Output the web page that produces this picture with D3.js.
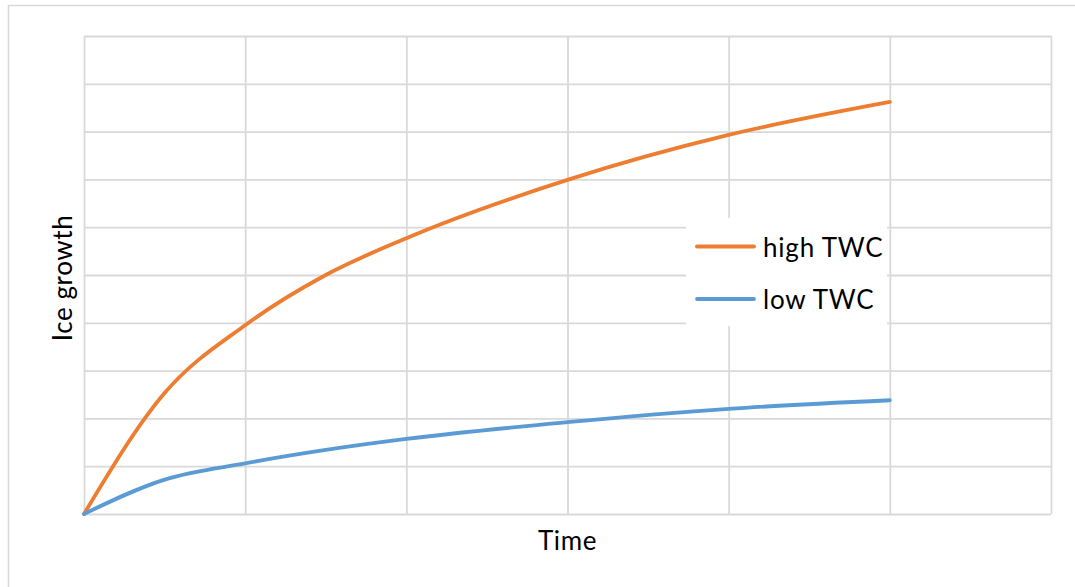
<!DOCTYPE html>
<html>
<head>
<meta charset="utf-8">
<script src="https://cdn.jsdelivr.net/npm/d3@7"></script>
<style>
  html, body { margin: 0; padding: 0; background: #ffffff; }
  svg { display: block; }
  text { font-family: Lato, "Open Sans", sans-serif; fill: #000; }
</style>
</head>
<body>
<svg id="chart" width="1075" height="587"></svg>
<script>
// ---- data ----
const seriesNames = ["high TWC", "low TWC"];
const timeValues = [0, 0.5, 1, 1.5, 2, 3, 4, 5];
const highTWC = [0, 2.53, 3.95, 5.0, 5.77, 6.99, 7.93, 8.62];
const lowTWC  = [0, 0.72, 1.06, 1.34, 1.57, 1.92, 2.2, 2.38];
const xTicks = [0, 1, 2, 3, 4, 5, 6];
const yTicks = [0, 1, 2, 3, 4, 5, 6, 7, 8, 9, 10];
const seriesColors = ["#ed7d31", "#5b9bd5"];

const svg = d3.select("#chart");
const W = 1075, H = 587;
const plot = { left: 84, right: 1051, top: 36, bottom: 514 };

// outer chart border
svg.append("rect")
  .attr("x", 8.5).attr("y", 5.5)
  .attr("width", W + 20).attr("height", H + 20)
  .attr("fill", "#ffffff")
  .attr("stroke", "#d9d9d9").attr("stroke-width", 1.5);

const x = d3.scaleLinear().domain([0, 6]).range([plot.left, plot.right]);
const y = d3.scaleLinear().domain([0, 10]).range([plot.bottom, plot.top]);

// gridlines via axes
const gridColor = "#d9d9d9";
const gx = svg.append("g")
  .attr("transform", `translate(0,${plot.bottom})`)
  .call(d3.axisBottom(x).tickValues(xTicks).tickSize(-(plot.bottom - plot.top)).tickFormat(""));
const gy = svg.append("g")
  .attr("transform", `translate(${plot.left},0)`)
  .call(d3.axisLeft(y).tickValues(yTicks).tickSize(-(plot.right - plot.left)).tickFormat(""));
[gx, gy].forEach(g => {
  g.select(".domain").remove();
  g.selectAll(".tick line").attr("stroke", gridColor).attr("stroke-width", 1.8);
});

// series lines
const line = d3.line()
  .x((d, i) => x(timeValues[i]))
  .y(d => y(d))
  .curve(d3.curveMonotoneX);

[highTWC, lowTWC].forEach((vals, i) => {
  svg.append("path")
    .datum(vals)
    .attr("d", line)
    .attr("fill", "none")
    .attr("stroke", seriesColors[i])
    .attr("stroke-width", 3.8)
    .attr("stroke-linecap", "round")
    .attr("stroke-linejoin", "round");
});

// legend
const legend = svg.append("g");
legend.append("rect")
  .attr("x", 686).attr("y", 218)
  .attr("width", 201).attr("height", 108)
  .attr("fill", "#ffffff");
const legendRows = [246.5, 299];
seriesNames.forEach((name, i) => {
  legend.append("line")
    .attr("x1", 697).attr("x2", 754)
    .attr("y1", legendRows[i]).attr("y2", legendRows[i])
    .attr("stroke", seriesColors[i]).attr("stroke-width", 3.8)
    .attr("stroke-linecap", "round");
  legend.append("text")
    .attr("x", 763).attr("y", legendRows[i] + 10)
    .attr("font-size", 26)
    .attr("letter-spacing", 0.8)
    .text(name);
});

// axis titles
svg.append("text")
  .attr("x", (plot.left + plot.right) / 2)
  .attr("y", 550)
  .attr("text-anchor", "middle")
  .attr("font-size", 26)
  .attr("letter-spacing", 0.6)
  .text("Time");

svg.append("text")
  .attr("transform", `translate(72,${(plot.top + plot.bottom) / 2 + 3}) rotate(-90)`)
  .attr("text-anchor", "middle")
  .attr("font-size", 26)
  .attr("letter-spacing", 0.6)
  .text("Ice growth");
</script>
</body>
</html>
